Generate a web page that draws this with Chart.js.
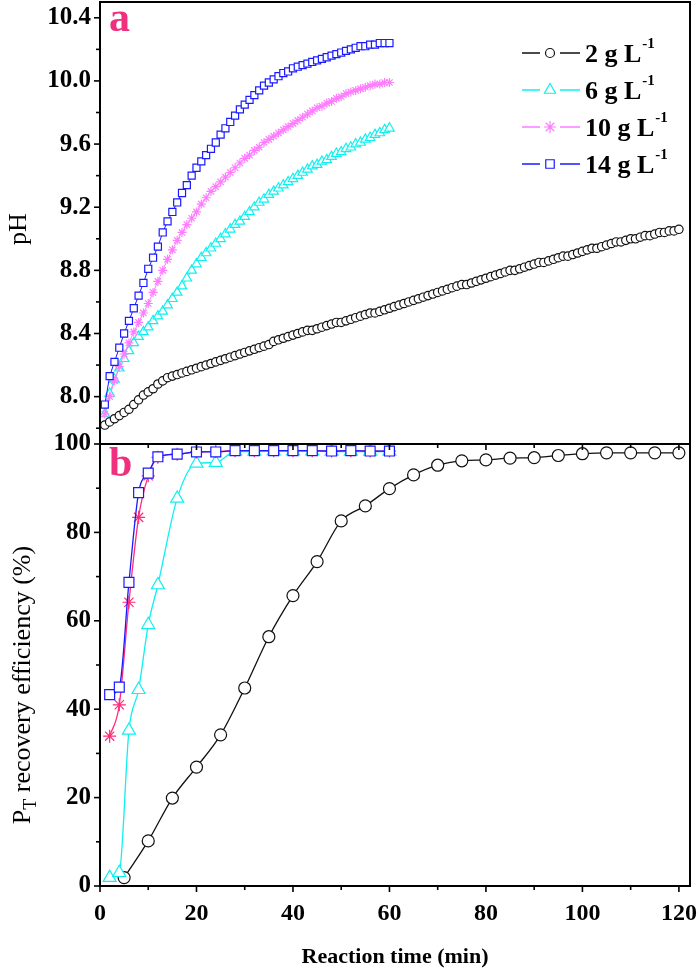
<!DOCTYPE html>
<html>
<head>
<meta charset="utf-8">
<script src="https://cdn.jsdelivr.net/npm/chart.js@4.4.0/dist/chart.umd.min.js"></script>
<style>
  html, body { margin: 0; padding: 0; background: #fff; }
  #wrap { width: 700px; height: 971px; }
</style>
</head>
<body>
<div id="wrap"><canvas id="chart" width="700" height="971"></canvas></div>
<script>
// ---- Data ----
// Panel a: pH readings, one per minute
const phMinutes = [1, 2, 3, 4, 5, 6, 7, 8, 9, 10, 11, 12, 13, 14, 15, 16, 17, 18, 19, 20,
  21, 22, 23, 24, 25, 26, 27, 28, 29, 30, 31, 32, 33, 34, 35, 36, 37, 38, 39, 40,
  41, 42, 43, 44, 45, 46, 47, 48, 49, 50, 51, 52, 53, 54, 55, 56, 57, 58, 59, 60,
  61, 62, 63, 64, 65, 66, 67, 68, 69, 70, 71, 72, 73, 74, 75, 76, 77, 78, 79, 80,
  81, 82, 83, 84, 85, 86, 87, 88, 89, 90, 91, 92, 93, 94, 95, 96, 97, 98, 99, 100,
  101, 102, 103, 104, 105, 106, 107, 108, 109, 110, 111, 112, 113, 114, 115, 116, 117, 118, 119, 120];

const ph2 = [7.82, 7.84, 7.86, 7.88, 7.90, 7.92, 7.95, 7.98, 8.01, 8.03, 8.05, 8.08, 8.10, 8.12, 8.13, 8.14, 8.15, 8.16, 8.17, 8.18,
  8.19, 8.20, 8.21, 8.22, 8.23, 8.24, 8.25, 8.26, 8.27, 8.28, 8.29, 8.30, 8.31, 8.32, 8.33, 8.35, 8.36, 8.37, 8.38, 8.39,
  8.40, 8.41, 8.42, 8.42, 8.43, 8.44, 8.45, 8.46, 8.47, 8.47, 8.48, 8.49, 8.50, 8.51, 8.52, 8.53, 8.53, 8.54, 8.55, 8.56,
  8.57, 8.58, 8.59, 8.60, 8.61, 8.62, 8.63, 8.64, 8.65, 8.66, 8.67, 8.68, 8.69, 8.70, 8.71, 8.71, 8.72, 8.73, 8.74, 8.75,
  8.76, 8.77, 8.78, 8.79, 8.80, 8.80, 8.81, 8.82, 8.83, 8.84, 8.85, 8.85, 8.86, 8.87, 8.88, 8.89, 8.89, 8.90, 8.91, 8.92,
  8.93, 8.94, 8.94, 8.95, 8.96, 8.97, 8.98, 8.98, 8.99, 9.00, 9.00, 9.01, 9.02, 9.02, 9.03, 9.04, 9.04, 9.05, 9.05, 9.06];

const ph6 = [7.89, 8.02, 8.11, 8.18, 8.24, 8.29, 8.34, 8.38, 8.41, 8.44, 8.48, 8.51, 8.54, 8.58, 8.62, 8.66, 8.70, 8.75, 8.80, 8.84,
  8.88, 8.91, 8.94, 8.97, 9.00, 9.03, 9.06, 9.09, 9.11, 9.14, 9.17, 9.20, 9.23, 9.25, 9.28, 9.30, 9.32, 9.34, 9.36, 9.38,
  9.40, 9.42, 9.44, 9.46, 9.47, 9.49, 9.50, 9.52, 9.54, 9.55, 9.57, 9.58, 9.60, 9.61, 9.63, 9.64, 9.66, 9.67, 9.69, 9.70];

const ph10 = [7.89, 8.00, 8.10, 8.19, 8.27, 8.34, 8.41, 8.47, 8.53, 8.59, 8.66, 8.73, 8.80, 8.87, 8.93, 8.99, 9.04, 9.09, 9.13, 9.17,
  9.22, 9.26, 9.30, 9.33, 9.36, 9.39, 9.42, 9.45, 9.48, 9.51, 9.53, 9.56, 9.58, 9.61, 9.63, 9.65, 9.67, 9.69, 9.71, 9.73,
  9.75, 9.77, 9.79, 9.81, 9.83, 9.84, 9.86, 9.87, 9.89, 9.90, 9.92, 9.93, 9.94, 9.95, 9.96, 9.97, 9.98, 9.98, 9.99, 9.99];

const ph14 = [7.95, 8.13, 8.22, 8.31, 8.40, 8.48, 8.56, 8.64, 8.72, 8.81, 8.88, 8.95, 9.04, 9.11, 9.17, 9.23, 9.29, 9.34, 9.40, 9.45,
  9.49, 9.53, 9.57, 9.61, 9.66, 9.70, 9.74, 9.78, 9.82, 9.85, 9.88, 9.91, 9.94, 9.97, 9.99, 10.01, 10.03, 10.05, 10.06, 10.08,
  10.09, 10.10, 10.11, 10.12, 10.13, 10.14, 10.15, 10.16, 10.17, 10.18, 10.19, 10.20, 10.21, 10.22, 10.22, 10.23, 10.23, 10.24, 10.24, 10.24];

// Panel b: P_T recovery efficiency (%)
const recMinutes2 = [5, 10, 15, 20, 25, 30, 35, 40, 45, 50, 55, 60, 65, 70, 75, 80, 85, 90, 95, 100, 105, 110, 115, 120];
const rec2 = [1.9, 10.2, 19.9, 26.9, 34.2, 44.8, 56.4, 65.7, 73.4, 82.6, 86.0, 89.9, 93.0, 95.2, 96.2, 96.4, 96.8, 96.9, 97.4, 97.8, 98.0, 98.0, 98.0, 98.0];

const recMinutes = [2, 4, 6, 8, 10, 12, 16, 20, 24, 28, 32, 36, 40, 44, 48, 52, 56, 60];
const rec6 = [1.9, 3.0, 35.2, 44.4, 59.1, 68.1, 87.7, 95.6, 95.8, 98.3, 98.3, 98.4, 98.4, 98.4, 98.3, 98.3, 98.3, 98.3];
const rec10 = [33.9, 41.0, 64.2, 83.4, 92.8, 97.0, 97.7, 98.2, 98.3, 98.5, 98.5, 98.5, 98.5, 98.5, 98.4, 98.5, 98.4, 98.4];
const rec14 = [43.3, 45.0, 68.7, 89.0, 93.4, 97.1, 97.7, 98.2, 98.2, 98.5, 98.5, 98.5, 98.5, 98.5, 98.4, 98.5, 98.4, 98.4];

// Ticks
const xTicks = [0, 20, 40, 60, 80, 100, 120];
const xMinorTicks = [10, 30, 50, 70, 90, 110];
const phTicks = [8.0, 8.4, 8.8, 9.2, 9.6, 10.0, 10.4];
const phMinorTicks = [7.8, 8.2, 8.6, 9.0, 9.4, 9.8, 10.2];
const recTicks = [0, 20, 40, 60, 80, 100];
const recMinorTicks = [10, 30, 50, 70, 90];

const legendLabels = ['2 g L', '6 g L', '10 g L', '14 g L'];

// ---- Helpers ----
const SERIF = '"Liberation Serif", "Times New Roman", serif';

function pts(xs, ys) {
  return ys.map((y, i) => ({ x: xs[i], y: y }));
}

function series(label, data, axis, color, style, radius, lineWidth, order, tension) {
  return {
    label: label,
    data: data,
    yAxisID: axis,
    borderColor: color,
    backgroundColor: color,
    borderWidth: lineWidth,
    pointStyle: style,
    pointRadius: radius,
    pointBorderColor: color,
    pointBackgroundColor: '#fff',
    pointBorderWidth: 1.2,
    tension: tension,
    cubicInterpolationMode: tension ? 'monotone' : 'default',
    order: order,
    fill: false
  };
}

// drop the extra room Chart.js keeps for overhanging tick labels
function noPad(s) {
  s.paddingTop = 0;
  s.paddingBottom = 0;
  s.paddingLeft = 0;
  s.paddingRight = 0;
}

const BLACK = '#111111';
const CYAN = '#10f0f0';
const VIOLET = '#ff7cff';
const PINK = '#ff2a7a';
const BLUE = '#1a1aff';
const LABEL_PINK = '#f0307f';

// legend entries (panel a styles)
const legendStyles = [
  { color: BLACK, style: 'circle', radius: 4.5 },
  { color: CYAN, style: 'triangle', radius: 6.5 },
  { color: VIOLET, style: 'star', radius: 6 },
  { color: BLUE, style: 'rect', radius: 6 }
];

// ---- Decorations: frame, tick marks, titles, legend ----
const decorPlugin = {
  id: 'decor',
  afterDatasetsDraw(chart) {
    const ctx = chart.ctx;
    const area = chart.chartArea;
    const x = chart.scales.x;
    const yA = chart.scales.yA;
    const yB = chart.scales.yB;
    ctx.save();
    ctx.strokeStyle = '#000';
    ctx.lineWidth = 2;
    ctx.strokeRect(area.left, area.top, area.right - area.left, area.bottom - area.top);
    ctx.beginPath();
    ctx.moveTo(area.left, yB.top);
    ctx.lineTo(area.right, yB.top);
    ctx.stroke();

    function hTick(scale, v, len) {
      const p = scale.getPixelForValue(v);
      ctx.beginPath();
      ctx.moveTo(area.left, p);
      ctx.lineTo(area.left - len, p);
      ctx.stroke();
    }
    function vTick(v, y0, len) {
      const p = x.getPixelForValue(v);
      ctx.beginPath();
      ctx.moveTo(p, y0);
      ctx.lineTo(p, y0 + len);
      ctx.stroke();
    }
    ctx.lineWidth = 1.6;
    phTicks.forEach(v => hTick(yA, v, 6));
    phMinorTicks.forEach(v => hTick(yA, v, 4));
    recTicks.forEach(v => hTick(yB, v, 6));
    recMinorTicks.forEach(v => hTick(yB, v, 4));
    xTicks.forEach(v => { vTick(v, area.bottom, 6); if (v > 0) vTick(v, yB.top, 6); });
    xMinorTicks.forEach(v => { vTick(v, area.bottom, 4); vTick(v, yB.top, 4); });

    // panel letters
    ctx.fillStyle = LABEL_PINK;
    ctx.font = 'bold 42px ' + SERIF;
    ctx.textAlign = 'left';
    ctx.textBaseline = 'alphabetic';
    ctx.fillText('a', area.left + 9, yA.top + 29);
    ctx.fillText('b', area.left + 9, yB.top + 32);

    // axis titles
    ctx.fillStyle = '#000';
    ctx.save();
    ctx.translate(26, (yA.top + yA.bottom) / 2 + 6);
    ctx.rotate(-Math.PI / 2);
    ctx.font = '26px ' + SERIF;
    ctx.textAlign = 'center';
    ctx.fillText('pH', 0, 0);
    ctx.restore();

    ctx.save();
    ctx.translate(30, (yB.top + yB.bottom) / 2 + 20);
    ctx.rotate(-Math.PI / 2);
    ctx.textAlign = 'left';
    const big = '26px ' + SERIF;
    const small = '18px ' + SERIF;
    const rest = 'recovery efficiency (%)';
    ctx.font = big;
    const wP = ctx.measureText('P').width;
    const wRest = ctx.measureText(' ' + rest).width;
    ctx.font = small;
    const wT = ctx.measureText('T').width;
    let cx = -(wP + wT + wRest) / 2;
    ctx.font = big;
    ctx.fillText('P', cx, 0);
    cx += wP;
    ctx.font = small;
    ctx.fillText('T', cx, 6);
    cx += wT;
    ctx.font = big;
    ctx.fillText(' ' + rest, cx, 0);
    ctx.restore();

    ctx.font = 'bold 22px ' + SERIF;
    ctx.textAlign = 'center';
    ctx.fillText('Reaction time (min)', (area.left + area.right) / 2, 963);

    // legend inside panel a
    const rowY = [53, 90, 127, 164];
    legendStyles.forEach((s, i) => {
      const y = rowY[i];
      ctx.strokeStyle = s.color;
      ctx.lineWidth = 1.5;
      ctx.beginPath();
      ctx.moveTo(522, y); ctx.lineTo(540, y);
      ctx.moveTo(560, y); ctx.lineTo(580, y);
      ctx.stroke();
      ctx.fillStyle = '#fff';
      ctx.lineWidth = 1.2;
      Chart.helpers.drawPoint(ctx, { pointStyle: s.style, radius: s.radius, rotation: 0, borderWidth: 1.2 }, 550, y);
      ctx.fillStyle = '#000';
      ctx.textAlign = 'left';
      ctx.font = 'bold 26px ' + SERIF;
      ctx.fillText(legendLabels[i], 585, y + 9);
      const w = ctx.measureText(legendLabels[i]).width;
      ctx.font = 'bold 15px ' + SERIF;
      ctx.fillText('-1', 585 + w + 1, y - 5);
    });
    ctx.restore();
  }
};

// ---- Chart ----
const tickFont = { family: SERIF, size: 25, weight: 'bold' };

new Chart(document.getElementById('chart'), {
  type: 'line',
  data: {
    datasets: [
      series('14 g L-1', pts(phMinutes, ph14), 'yA', BLUE, 'rect', 5, 1, 0, 0),
      series('10 g L-1', pts(phMinutes, ph10), 'yA', VIOLET, 'star', 4.5, 1, 1, 0),
      series('6 g L-1', pts(phMinutes, ph6), 'yA', CYAN, 'triangle', 5.5, 1, 2, 0),
      series('2 g L-1', pts(phMinutes, ph2), 'yA', BLACK, 'circle', 4.2, 1, 3, 0),
      series('14 g L-1', pts(recMinutes, rec14), 'yB', BLUE, 'rect', 7, 1.3, 4, 0.3),
      series('10 g L-1', pts(recMinutes, rec10), 'yB', PINK, 'star', 6.5, 1.3, 5, 0.3),
      series('6 g L-1', pts(recMinutes, rec6), 'yB', CYAN, 'triangle', 7.5, 1.3, 6, 0.3),
      series('2 g L-1', pts(recMinutes2, rec2), 'yB', BLACK, 'circle', 6, 1.3, 7, 0.3)
    ]
  },
  options: {
    responsive: false,
    animation: false,
    layout: { autoPadding: false, padding: { top: 2, right: 10, left: 0, bottom: 0 } },
    plugins: {
      legend: { display: false },
      tooltip: { enabled: false },
      title: { display: false }
    },
    scales: {
      x: {
        type: 'linear',
        position: 'bottom',
        min: 0,
        max: 122.3,
        afterBuildTicks: s => { s.ticks = xTicks.map(v => ({ value: v })); },
        afterFit: s => { s.height = 85; noPad(s); },
        grid: { display: false, drawTicks: false },
        border: { display: false },
        ticks: { padding: 13, font: { family: SERIF, size: 24, weight: 'bold' }, color: '#000', autoSkip: false, maxRotation: 0 }
      },
      yB: {
        type: 'linear',
        position: 'left',
        stack: 'panels',
        stackWeight: 1,
        min: 0,
        max: 100,
        afterBuildTicks: s => { s.ticks = recTicks.map(v => ({ value: v })); },
        afterFit: s => { s.width = 100; noPad(s); },
        grid: { display: false, drawTicks: false },
        border: { display: false },
        ticks: { padding: 9, font: tickFont, color: '#000', autoSkip: false }
      },
      yA: {
        type: 'linear',
        position: 'left',
        stack: 'panels',
        stackWeight: 1,
        min: 7.7,
        max: 10.5,
        afterBuildTicks: s => { s.ticks = phTicks.map(v => ({ value: v })); },
        afterFit: s => { s.width = 100; noPad(s); },
        grid: { display: false, drawTicks: false },
        border: { display: false },
        ticks: { padding: 9, font: tickFont, color: '#000', autoSkip: false, callback: v => v.toFixed(1) }
      }
    }
  },
  plugins: [decorPlugin]
});
</script>
</body>
</html>
